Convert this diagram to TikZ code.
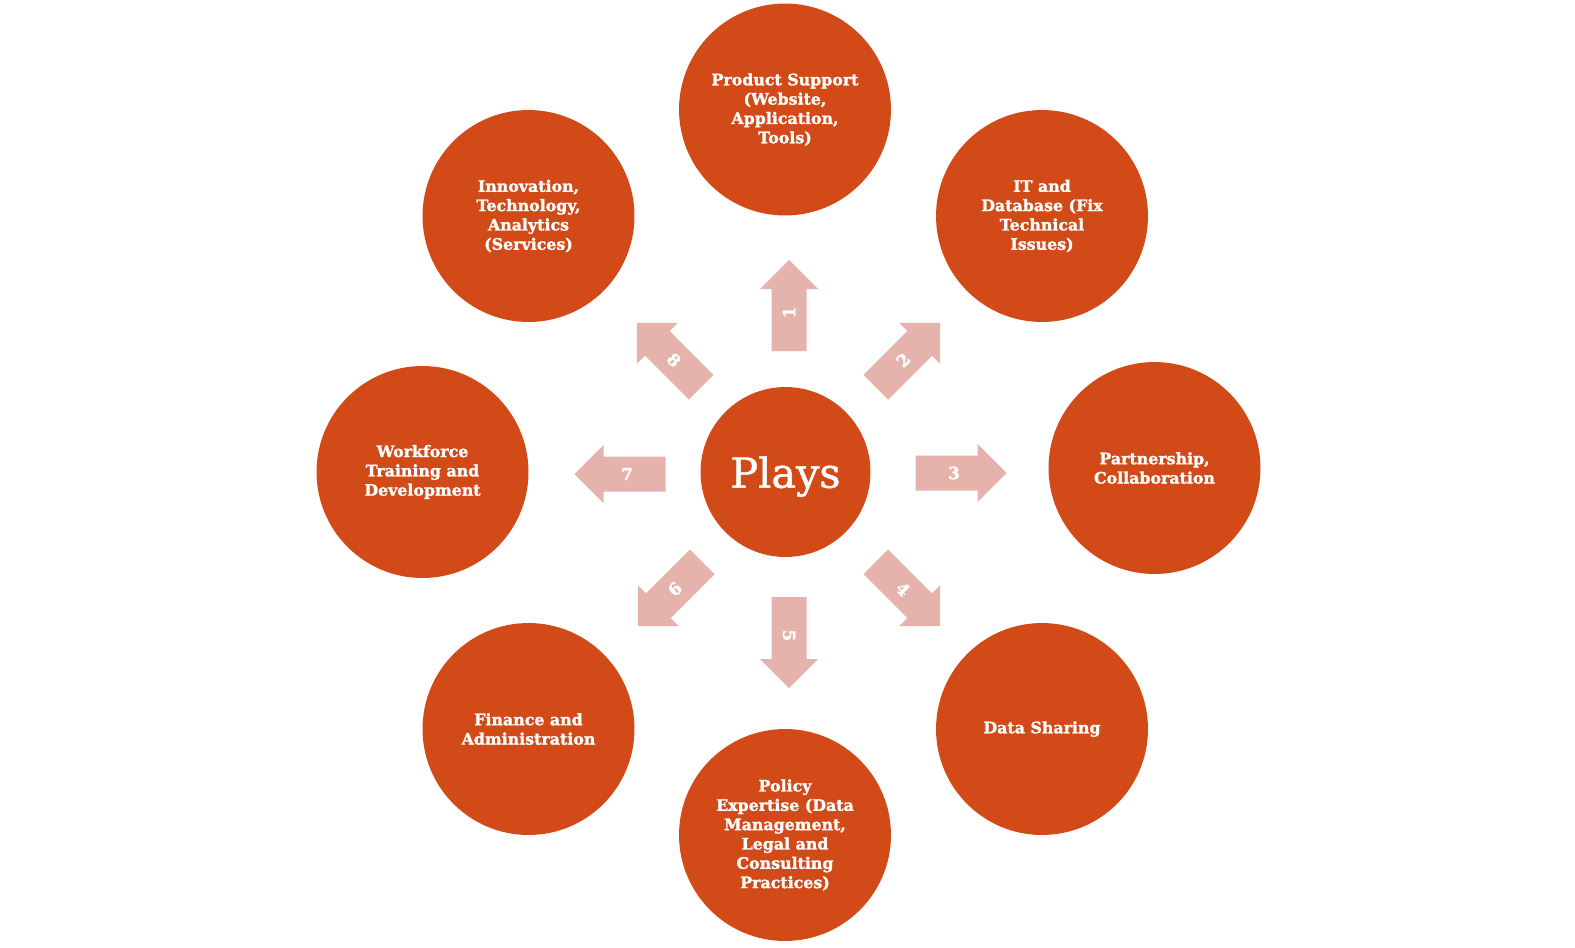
\documentclass[tikz,border=0pt]{standalone}
\usepackage{fontspec}
\setmainfont{DejaVu Serif}[BoldFeatures={FakeBold=1.6}]
\newfontfamily\fuenteplays{DejaVu Serif}[FakeBold=1.2]
\definecolor{naranja}{RGB}{210,74,24}
\definecolor{rosa}{RGB}{230,178,172}
\tikzset{
  burbuja/.style={circle, fill=naranja, text=white, minimum size=4.24cm, inner sep=0pt,
    align=center, font=\fontsize{9}{11}\selectfont\bfseries},
  centro/.style={circle, fill=naranja, text=white, minimum size=3.4cm, inner sep=0pt,
    text depth=0pt, font=\fontsize{23.5}{23.5}\selectfont\fuenteplays},
  flecha/.style={fill=rosa},
  numero/.style={text=white, inner sep=0pt, font=\fontsize{9.5}{9.5}\selectfont\bfseries}
}

\begin{document}
\begin{tikzpicture}[x=0.02cm, y=-0.02cm]
    \useasboundingbox (0,0) rectangle (1575,947);

    % Círculo central
    \node[centro] (plays) at (785.5,472) {Plays};

    % Círculos exteriores
    \node[burbuja] (producto)   at (785,109.5)   {Product Support\\(Website,\\Application,\\Tools)};
    \node[burbuja] (it)         at (1042,216)    {IT and\\Database (Fix\\Technical\\Issues)};
    \node[burbuja] (alianza)    at (1154.5,468)  {Partnership,\\Collaboration};
    \node[burbuja] (datos)      at (1042,729)    {Data Sharing};
    \node[burbuja] (politica)   at (785,835)     {Policy\\Expertise (Data\\Management,\\Legal and\\Consulting\\Practices)};
    \node[burbuja] (finanzas)   at (528.5,729)   {Finance and\\Administration};
    \node[burbuja] (personal)   at (422.5,472)   {Workforce\\Training and\\Development};
    \node[burbuja] (innovacion) at (528.5,216)   {Innovation,\\Technology,\\Analytics\\(Services)};

    % Flechas numeradas
    \foreach \cx/\cy/\ang/\num/\rot in {789/305.5/90/1/90, 908/355/45/2/45, 961/473/0/3/0,
        908/594/-45/4/-45, 789/642.5/-90/5/-90, 670/594/-135/6/45, 620/474/180/7/0, 669/355/135/8/-45} {
        \begin{scope}[shift={(\cx,\cy)}, rotate=\ang]
            \fill[flecha] (-45.5,-17.5) -- (16.5,-17.5) -- (16.5,-29) -- (45.5,0)
                -- (16.5,29) -- (16.5,17.5) -- (-45.5,17.5) -- cycle;
            \node[numero, rotate=\rot] (flecha\num) at (-7,0) {\num};
        \end{scope}
    }
\end{tikzpicture}
\end{document}
